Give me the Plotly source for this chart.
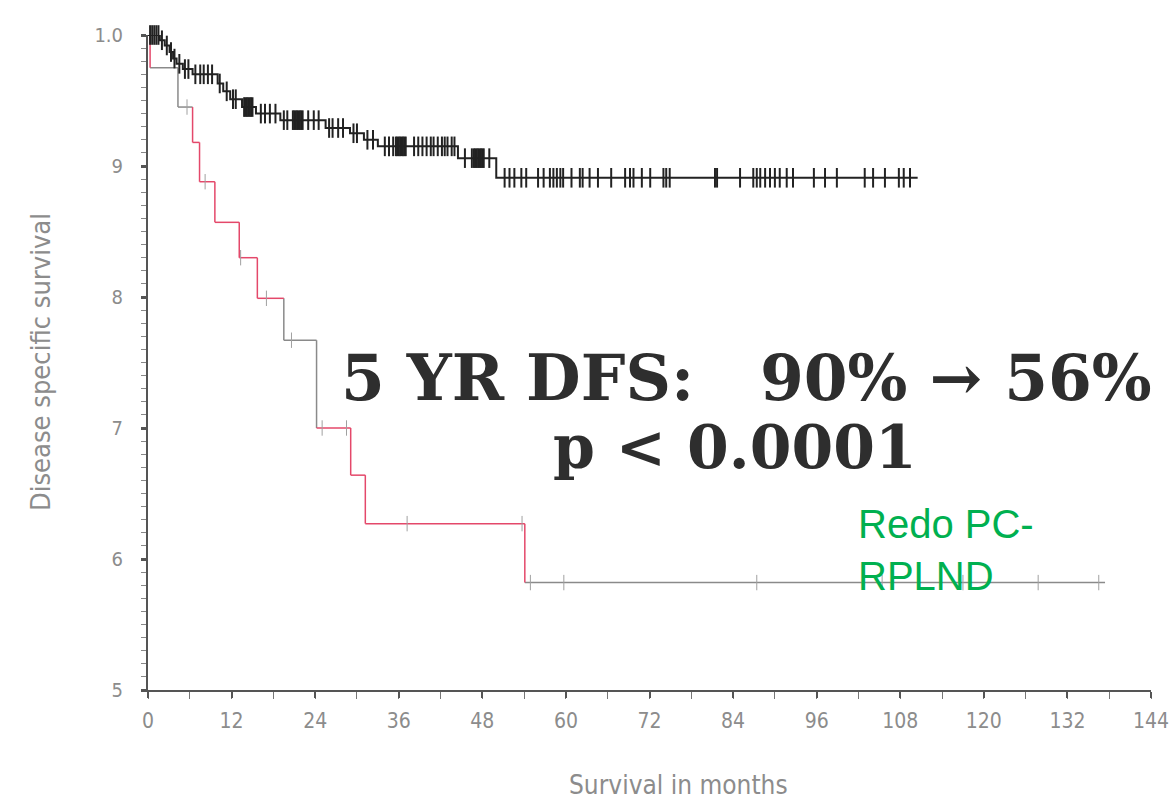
import plotly.graph_objects as go

# ---------------- data ----------------
# Upper group (black): step times (months) and survival levels
UP_T = [0, 1.7, 2.4, 3.1, 3.6, 4.1, 5.0, 6.4, 10.0, 10.8, 11.8, 13.5, 15.5, 19.0, 25.5, 29.0, 31.0, 33.0, 44.5, 50.0]
UP_S = [1.0, 0.996, 0.992, 0.987, 0.982, 0.978, 0.974, 0.970, 0.963, 0.957, 0.951, 0.945, 0.940, 0.935, 0.929, 0.925, 0.920, 0.915, 0.906, 0.891]
UP_END = 110.5
UP_CENSOR = [0.3, 0.6, 0.9, 1.2, 1.5, 2.0, 2.7, 3.3, 3.8, 4.5, 5.3, 5.8, 6.8, 7.5, 8.0, 8.6, 9.2,
             10.3, 11.3, 12.2, 12.6, 13.8, 14.0, 14.2, 14.4, 14.6, 14.8, 15.0, 16.2, 16.8, 17.5,
             18.3, 19.5, 20.0, 20.8, 21.0, 21.2, 21.4, 21.6, 21.8, 22.0, 22.2, 23.0, 23.8, 24.5,
             26.0, 26.5, 27.3, 28.0, 29.5, 30.0, 31.5, 32.3, 34.0, 34.6, 35.2, 35.6, 35.8, 36.0,
             36.2, 36.4, 36.6, 36.8, 37.0, 38.2, 38.8, 39.4, 40.0, 40.6, 41.0, 41.6, 42.2, 42.6,
             43.0, 43.6, 44.0, 45.5, 46.5, 46.8, 47.0, 47.2, 47.4, 47.6, 47.8, 48.0, 48.2, 49.0,
             51.2, 51.9, 52.6, 53.6, 54.3, 56.0, 56.8, 57.7, 58.2, 58.7, 59.2, 59.6, 60.8, 62.0,
             62.4, 63.4, 64.6, 66.5, 68.5, 69.2, 69.7, 70.9, 72.1, 74.0, 74.4, 74.9, 81.4, 81.7,
             85.0, 86.9, 87.4, 87.9, 88.6, 89.3, 90.0, 90.7, 91.7, 92.6, 95.6, 97.2, 98.9, 102.9,
             104.1, 105.8, 107.8, 108.5, 109.4]

# Lower group (Redo PC-RPLND)
LO_T = [0, 0.3, 4.3, 6.4, 7.4, 9.6, 13.1, 15.7, 19.5, 24.2, 29.1, 31.2, 54.1]
LO_S = [1.0, 0.975, 0.945, 0.918, 0.888, 0.857, 0.830, 0.799, 0.767, 0.700, 0.664, 0.627, 0.582]
LO_END = 137.4
LO_CENSOR = [5.6, 8.2, 13.3, 17.0, 20.6, 25.0, 28.5, 37.2, 53.7, 54.9, 59.7, 87.4, 105.4, 117.0, 127.8, 136.5]
# colour of (horizontal, following vertical) piece for each level; last level only horizontal
LO_SEG_COLORS = [("r", "r"), ("g", "g"), ("g", "r"), ("r", "r"), ("r", "r"), ("r", "r"), ("r", "r"),
                 ("r", "g"), ("g", "g"), ("r", "r"), ("r", "r"), ("r", "r"), ("g", None)]

X_TICKS = [0, 12, 24, 36, 48, 60, 72, 84, 96, 108, 120, 132, 144]
Y_TICKS = [0.5, 0.6, 0.7, 0.8, 0.9, 1.0]
Y_TICK_TEXT = ["5", "6", "7", "8", "9", "1.0"]

ANNOT_LINE1 = "5 YR DFS:\u00a0\u00a0\u00a090% \u2192 56%"
ANNOT_LINE2 = "p < 0.0001"
GROUP_LABEL = "Redo PC-<br>RPLND"
X_TITLE = "Survival in months"
Y_TITLE = "Disease specific survival"

RED = "#e4486a"
GRAY = "#8a8a8a"
BLACK = "#222222"


def surv_at(t_list, s_list, tc):
    val = s_list[0]
    for t, s in zip(t_list, s_list):
        if t <= tc:
            val = s
    return val


fig = go.Figure()

# lower curve: build coloured segments
segs = {"r": ([], []), "g": ([], [])}
for i in range(len(LO_T)):
    t0 = LO_T[i]
    t1 = LO_T[i + 1] if i + 1 < len(LO_T) else LO_END
    hcol, vcol = LO_SEG_COLORS[i]
    xs, ys = segs[hcol]
    xs += [t0, t1, None]
    ys += [LO_S[i], LO_S[i], None]
    if vcol is not None:
        xs, ys = segs[vcol]
        xs += [t1, t1, None]
        ys += [LO_S[i], LO_S[i + 1], None]

fig.add_trace(go.Scatter(x=segs["g"][0], y=segs["g"][1], mode="lines",
                         line=dict(color=GRAY, width=1.5), showlegend=False, hoverinfo="skip"))
fig.add_trace(go.Scatter(x=segs["r"][0], y=segs["r"][1], mode="lines",
                         line=dict(color=RED, width=1.5), showlegend=False, hoverinfo="skip"))
fig.add_trace(go.Scatter(x=LO_CENSOR, y=[surv_at(LO_T, LO_S, c) for c in LO_CENSOR], mode="markers",
                         marker=dict(symbol="line-ns", size=11, line=dict(color="#a0a0a0", width=1)),
                         showlegend=False, hoverinfo="skip", cliponaxis=False))

# upper curve
fig.add_trace(go.Scatter(x=UP_T + [UP_END], y=UP_S + [UP_S[-1]], mode="lines", line_shape="hv",
                         line=dict(color=BLACK, width=2), showlegend=False, hoverinfo="skip"))
fig.add_trace(go.Scatter(x=UP_CENSOR, y=[surv_at(UP_T, UP_S, c) for c in UP_CENSOR], mode="markers",
                         marker=dict(symbol="line-ns", size=14, line=dict(color=BLACK, width=2)),
                         showlegend=False, hoverinfo="skip", cliponaxis=False))

NARROW = "Liberation Sans Narrow, DejaVu Sans Condensed, Liberation Sans, Arial"

PL, PR, PT, PB = 148, 1151, 35, 690

fig.update_layout(
    width=1170, height=802,
    margin=dict(l=PL, r=1170 - PR, t=PT, b=802 - PB),
    paper_bgcolor="white", plot_bgcolor="white",
    xaxis=dict(range=[0, 144], tickvals=X_TICKS, ticktext=[str(v) for v in X_TICKS],
               showgrid=False, zeroline=False, showline=True, linecolor="#555555", linewidth=2,
               ticks="outside", ticklen=6, tickwidth=2, tickcolor="#555555",
               tickfont=dict(family=NARROW, size=21, color="#8c8c8c"),
               minor=dict(dtick=6, ticks="outside", ticklen=7, tickwidth=1, tickcolor="#777777"),
               ticklabelstandoff=5, ticklabeloverflow="allow", automargin=False),
    yaxis=dict(range=[0.5, 1.0], tickvals=Y_TICKS, ticktext=Y_TICK_TEXT,
               showgrid=False, zeroline=False, showline=True, linecolor="#555555", linewidth=2,
               ticks="outside", ticklen=5, tickwidth=3, tickcolor="#555555",
               tickfont=dict(family=NARROW, size=20, color="#8c8c8c"),
               minor=dict(dtick=0.01, tick0=0.5, ticks="outside", ticklen=5, tickwidth=1, tickcolor="#888888"),
               ticklabelstandoff=14, automargin=False),
)


def px_to_paper(px, py):
    return (px - PL) / float(PR - PL), (PB - py) / float(PB - PT)


ax, ay = px_to_paper(746, 378)
fig.add_annotation(x=ax, y=ay, xref="paper", yref="paper", text=ANNOT_LINE1, showarrow=False,
                   xanchor="center", yanchor="middle",
                   font=dict(family="DejaVu Serif", size=63, color="#2e2e2e", weight="bold"))
ax, ay = px_to_paper(735, 447)
fig.add_annotation(x=ax, y=ay, xref="paper", yref="paper", text=ANNOT_LINE2, showarrow=False,
                   xanchor="center", yanchor="middle",
                   font=dict(family="DejaVu Serif", size=60, color="#2e2e2e", weight="bold"))
ax, ay = px_to_paper(856, 500)
fig.add_annotation(x=ax, y=ay, xref="paper", yref="paper", text=GROUP_LABEL, showarrow=False,
                   xanchor="left", yanchor="top", align="left",
                   font=dict(family="Liberation Sans, Arial", size=40, color="#00b050"))
ax, ay = px_to_paper(678, 785)
fig.add_annotation(x=ax, y=ay, xref="paper", yref="paper", text=X_TITLE, showarrow=False,
                   xanchor="center", yanchor="middle",
                   font=dict(family=NARROW, size=26, color="#8c8c8c"))
ax, ay = px_to_paper(40, 362)
fig.add_annotation(x=ax, y=ay, xref="paper", yref="paper", text=Y_TITLE, showarrow=False, textangle=-90,
                   xanchor="center", yanchor="middle",
                   font=dict(family=NARROW, size=27, color="#8c8c8c"))

fig.write_html("out.html", config={"displayModeBar": False},
               post_script="document.body.style.margin='0px';")
